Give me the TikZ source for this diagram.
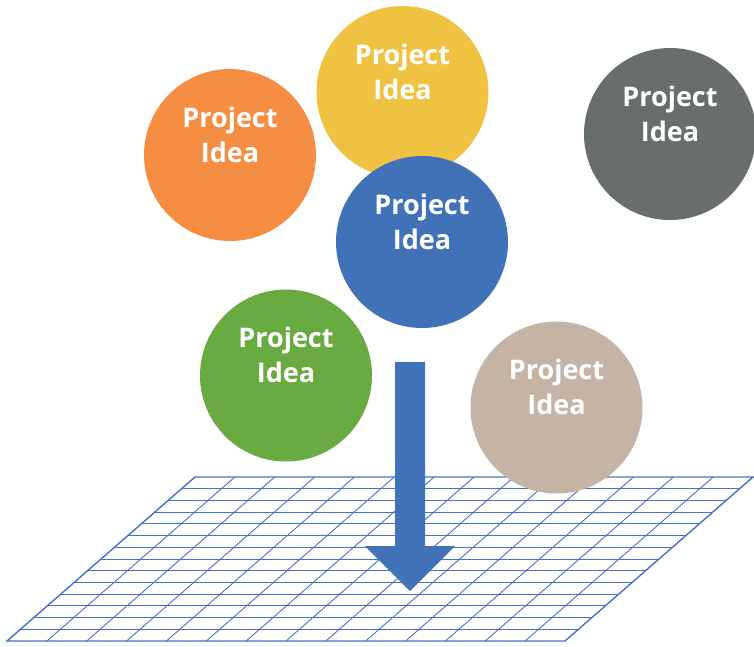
\documentclass[tikz,border=0pt]{standalone}
\usepackage{fontspec}
\setmainfont{Open Sans}
\usetikzlibrary{calc}
\definecolor{iorange}{RGB}{245,141,66}
\definecolor{iyellow}{RGB}{239,195,65}
\definecolor{iblue}{RGB}{65,114,183}
\definecolor{igray}{RGB}{104,110,109}
\definecolor{igreen}{RGB}{106,170,66}
\definecolor{ibeige}{RGB}{196,180,166}
\definecolor{igrid}{RGB}{68,114,196}
\begin{document}
\begin{tikzpicture}[x=1pt,y=-1pt,
  idea/.style={circle,minimum size=172pt,inner sep=0pt,draw=none},
  ideatext/.style={text=white,font=\fontsize{27}{35}\selectfont\bfseries,align=center,inner sep=0pt,yshift=20.5pt},
  gridline/.style={draw=igrid,line width=0.9pt},
  gridedge/.style={draw=igrid,line width=1.4pt,line join=miter}]
\useasboundingbox (0,0) rectangle (754,646);
% grid
\coordinate (gTL) at (195,477);
\coordinate (gTR) at (753,477);
\coordinate (gBR) at (565,641);
\coordinate (gBL) at (7,641);
\foreach \i in {1,...,13}{
  \draw[gridline] ($(gTL)!\i/14!(gBL)$) -- ($(gTR)!\i/14!(gBR)$);
  \draw[gridline] ($(gTL)!\i/14!(gTR)$) -- ($(gBL)!\i/14!(gBR)$);
}
\draw[gridedge] (gTL) -- (gTR) -- (gBR) -- (gBL) -- cycle;
% circles
\node[idea,fill=iorange] (orange) at (230,155) {};
\node[ideatext] (torange) at (orange.center) {Project\\Idea};
\node[idea,fill=iyellow] (yellow) at (402.5,92) {};
\node[ideatext] (tyellow) at (yellow.center) {Project\\Idea};
\node[idea,fill=iblue] (blue) at (422,242) {};
\node[ideatext] (tblue) at (blue.center) {Project\\Idea};
\node[idea,fill=igray] (gray) at (670,134) {};
\node[ideatext] (tgray) at (gray.center) {Project\\Idea};
\node[idea,fill=igreen] (green) at (286,375.5) {};
\node[ideatext] (tgreen) at (green.center) {Project\\Idea};
\node[idea,fill=ibeige] (beige) at (556.5,407.5) {};
\node[ideatext] (tbeige) at (beige.center) {Project\\Idea};
% arrow
\coordinate (aTop) at (410,362);
\coordinate (aTip) at (410,591);
\fill[iblue] ([xshift=-15pt]aTop) -- ([xshift=15pt]aTop) -- (425,546) -- (455,546)
  -- (aTip) -- (365,546) -- (395,546) -- cycle;
\end{tikzpicture}
\end{document}
